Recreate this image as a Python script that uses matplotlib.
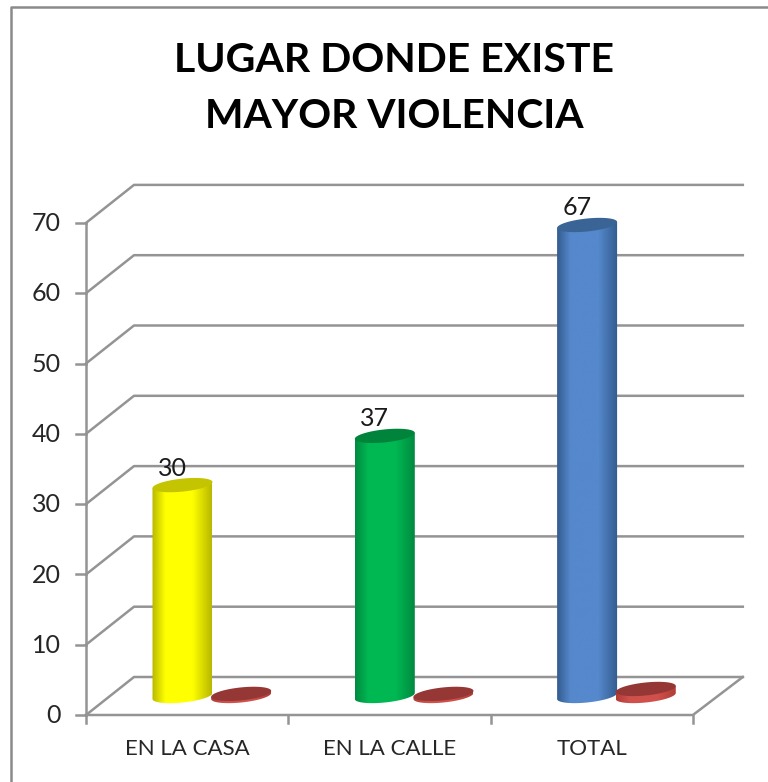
import matplotlib
matplotlib.use('Agg')
import matplotlib.pyplot as plt
import numpy as np
from matplotlib.colors import LinearSegmentedColormap
from matplotlib.patches import Polygon

categories = ['EN LA CASA', 'EN LA CALLE', 'TOTAL']
values = [30, 37, 67]
small_values = [0.3, 0.3, 1.0]
bar_colors = [('#b8b800', '#ffff00', '#c4c400'),
              ('#008a40', '#00b852', '#00843c'),
              ('#335c8e', '#5588cc', '#3a6496')]
red_colors = ('#b03c38', '#d0504c', '#953735')
y_ticks = [0, 10, 20, 30, 40, 50, 60, 70]

# pixel scale of the chart: one category is 202.3 px, one unit is 7.03 px
X0, Y0 = 86, 715
SX, SY = 202.3, 7.03
DX, DY = 48 / SX, 38 / SY   # depth of the floor
W = 768
H = 782

plt.rcParams['font.family'] = ['Lato', 'DejaVu Sans']
fig = plt.figure(figsize=(W / 100, H / 100), dpi=100)
ax = fig.add_axes([0, 0, 1, 1])
ax.set_axis_off()
xlim = (-X0 / SX, (W - X0) / SX)
ylim = ((Y0 - H) / SY, Y0 / SY)

grid = '#949494'
lw = 1.8

# outer frame, only left and top are visible
ax.plot([(11 - X0) / SX, (11 - X0) / SX, xlim[1]],
        [ylim[0], (Y0 - 7) / SY, (Y0 - 7) / SY], color='#8a8a8a', lw=lw)

n = len(categories)
for t in y_ticks:
    ax.plot([0, DX, n + DX * 1.04], [t, t + DY, t + DY], color=grid, lw=lw, zorder=1)
    ax.plot([-10 / SX, 0], [t, t], color=grid, lw=lw, zorder=1)
    ax.text(-25 / SX, t - 0.1, str(t), ha='right', va='center', fontsize=18, color='#262626')

ax.plot([0, 0], [0, y_ticks[-1]], color=grid, lw=lw, zorder=1)
ax.plot([0, n, n + DX * 1.04], [0, 0, DY], color=grid, lw=lw, zorder=1)
for i in range(n + 1):
    ax.plot([i, i], [0, -8 / SY], color=grid, lw=lw, zorder=1)
for i, c in enumerate(categories):
    ax.text(i + 0.5, -34 / SY, c, ha='center', va='center', fontsize=16, color='#262626')


def cylinder(cx, value, colors, zorder):
    edge, mid, top = colors
    rx = 30 / SX
    ry = 6.5 / SY
    tilt = 3 / SY
    base = DY / 2
    t = np.linspace(0, 2 * np.pi, 90)
    ex = cx + rx * np.cos(t)
    ey = ry * np.sin(t) + tilt * np.cos(t)

    low = t[(t >= np.pi)]
    bx = cx + rx * np.cos(low)
    by = base + ry * np.sin(low) + tilt * np.cos(low)
    body = np.column_stack([np.r_[cx - rx, bx, cx + rx],
                            np.r_[base + value - tilt, by, base + value + tilt]])
    clip = Polygon(body, closed=True, transform=ax.transData, fc='none', ec='none')
    ax.add_patch(clip)
    cmap = LinearSegmentedColormap.from_list(
        'c', [(0, edge), (0.22, mid), (0.68, mid), (1, edge)])
    im = ax.imshow(np.linspace(0, 1, 128).reshape(1, -1), cmap=cmap, aspect='auto',
                   extent=(cx - rx, cx + rx, base - 2 * ry, base + value + 2 * ry),
                   interpolation='bilinear', zorder=zorder)
    im.set_clip_path(clip)
    ax.fill(ex, base + value + ey, color=top, lw=0, zorder=zorder + 0.1)


for i in range(n):
    cx = i + 0.477
    cylinder(cx, values[i], bar_colors[i], 2 + i)
    ax.text(cx - 10 / SX, DY / 2 + values[i] + 17 / SY, str(values[i]),
            ha='center', va='center', fontsize=18, color='#1a1a1a', zorder=6)
    cylinder(i + 0.767, small_values[i], red_colors, 2.5 + i)

ax.set_xlim(xlim)
ax.set_ylim(ylim)

ax.text(394 / W, 1 - 60 / H, 'LUGAR DONDE EXISTE', transform=ax.transAxes,
        ha='center', va='center', fontsize=29.5, fontweight='bold', color='black')
ax.text(394 / W, 1 - 116 / H, 'MAYOR VIOLENCIA', transform=ax.transAxes,
        ha='center', va='center', fontsize=29.3, fontweight='bold', color='black')

fig.savefig('out.png', dpi=100)
